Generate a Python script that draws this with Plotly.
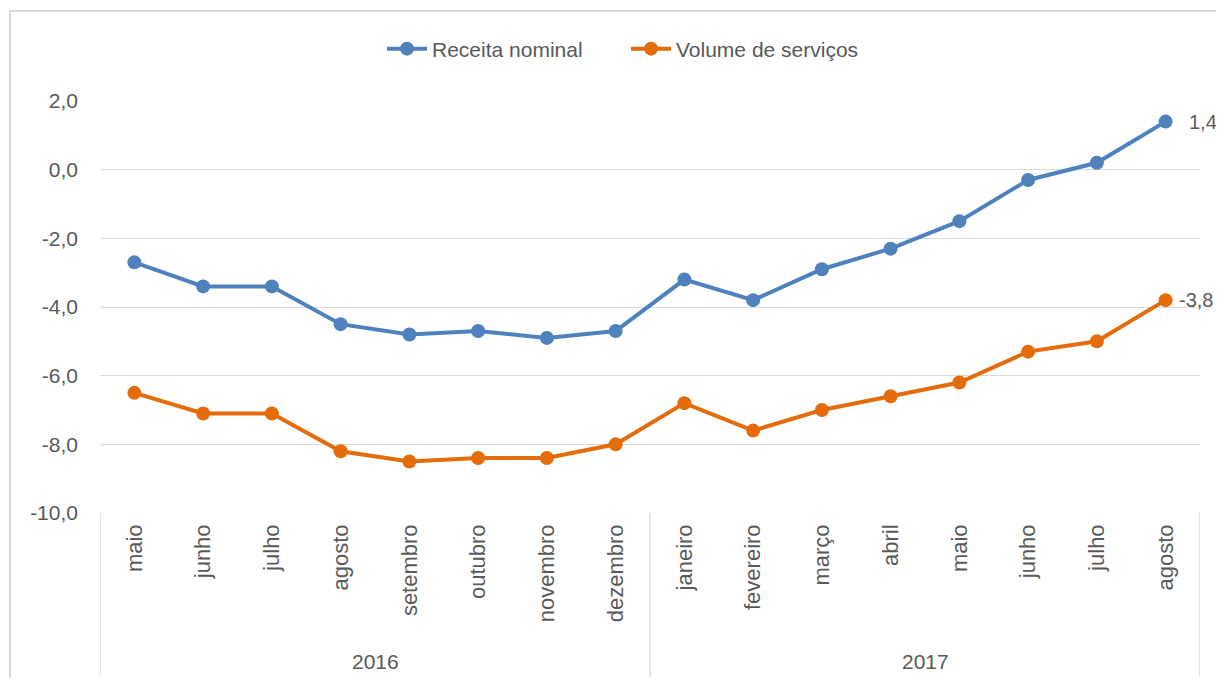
import plotly.graph_objects as go

months = ["maio", "junho", "julho", "agosto", "setembro", "outubro", "novembro", "dezembro",
          "janeiro", "fevereiro", "março", "abril", "maio", "junho", "julho", "agosto"]
years = ["2016", "2017"]
year_counts = [8, 8]
receita = [-2.7, -3.4, -3.4, -4.5, -4.8, -4.7, -4.9, -4.7, -3.2, -3.8, -2.9, -2.3, -1.5, -0.3, 0.2, 1.4]
volume = [-6.5, -7.1, -7.1, -8.2, -8.5, -8.4, -8.4, -8.0, -6.8, -7.6, -7.0, -6.6, -6.2, -5.3, -5.0, -3.8]
y_ticks = [-10, -8, -6, -4, -2, 0, 2]

BLUE = "#4F81BD"
ORANGE = "#E46C0A"
TXT = "#595959"
GRID = "#D9D9D9"
FONT = "Liberation Sans"

def fmt(v):
    return f"{v:.1f}".replace(".", ",")

xs = list(range(len(months)))

# page body has an 8px margin; figure coords = reference px - 8
OFF = 8
W, H = 1224 - 2 * OFF, 686 - 2 * OFF
PL, PR, PT, PB = 100, 1200, 101, 513          # plot area in reference pixels
L, T = PL - OFF, PT - OFF
pw, ph = PR - PL, PB - PT
R, B = W - L - pw, H - T - ph

def py(ref_y):
    return (PB - ref_y) / ph

def px(ref_x):
    return (ref_x - PL) / pw

fig = go.Figure()
for name, vals, col, shift in [("Receita nominal", receita, BLUE, 21),
                               ("Volume de serviços", volume, ORANGE, 11)]:
    fig.add_trace(go.Scatter(
        x=xs, y=vals, name=name, mode="lines+markers",
        line=dict(color=col, width=4),
        marker=dict(color=col, size=14),
        cliponaxis=False, hoverinfo="skip",
    ))
    fig.add_annotation(x=xs[-1], y=vals[-1], xref="x", yref="y", text=fmt(vals[-1]),
                       showarrow=False, xanchor="left", yanchor="middle", xshift=shift,
                       font=dict(family=FONT, size=20, color=TXT))

fig.update_layout(
    width=W, height=H,
    margin=dict(l=L, r=R, t=T, b=B, autoexpand=False),
    paper_bgcolor="white", plot_bgcolor="white",
    font=dict(family=FONT, size=21, color=TXT),
    showlegend=True,
    legend=dict(orientation="h", x=px(626), xanchor="center", y=py(49), yanchor="middle",
                font=dict(family=FONT, size=21, color=TXT), itemwidth=40,
                entrywidth=189, bgcolor="rgba(0,0,0,0)"),
    xaxis=dict(
        range=[-0.5, len(months) - 0.5],
        tickmode="array", tickvals=xs, ticktext=months, tickangle=-90,
        showgrid=False, zeroline=False, showline=False, ticks="",
        ticklabelstandoff=6,
        tickfont=dict(family=FONT, size=22, color=TXT),
        fixedrange=True,
    ),
    yaxis=dict(
        range=[-10, 2], tickmode="array", tickvals=y_ticks, ticktext=[fmt(v) for v in y_ticks],
        showgrid=True, gridcolor=GRID, gridwidth=1.3,
        zeroline=False, showline=False, ticks="",
        ticklabelstandoff=21,
        tickfont=dict(family=FONT, size=21, color=TXT),
        fixedrange=True,
    ),
)

# outer chart border
fig.add_shape(type="rect", xref="paper", yref="paper",
              x0=px(10), x1=px(1240), y0=py(700), y1=py(11),
              line=dict(color=GRID, width=2), fillcolor="rgba(0,0,0,0)", layer="below")

# category dividers and year labels
start = 0
bounds = [-0.5]
for y_lbl, n in zip(years, year_counts):
    end = start + n
    bounds.append(end - 0.5)
    fig.add_annotation(x=(start + end - 1) / 2, y=py(661), xref="x", yref="paper",
                       text=y_lbl, showarrow=False, yanchor="middle",
                       font=dict(family=FONT, size=21, color=TXT))
    start = end
for b in bounds:
    fig.add_shape(type="line", xref="x", yref="paper", x0=b, x1=b, y0=0, y1=py(677),
                  line=dict(color=GRID, width=1.3), layer="below")

fig.write_html("out.html")
